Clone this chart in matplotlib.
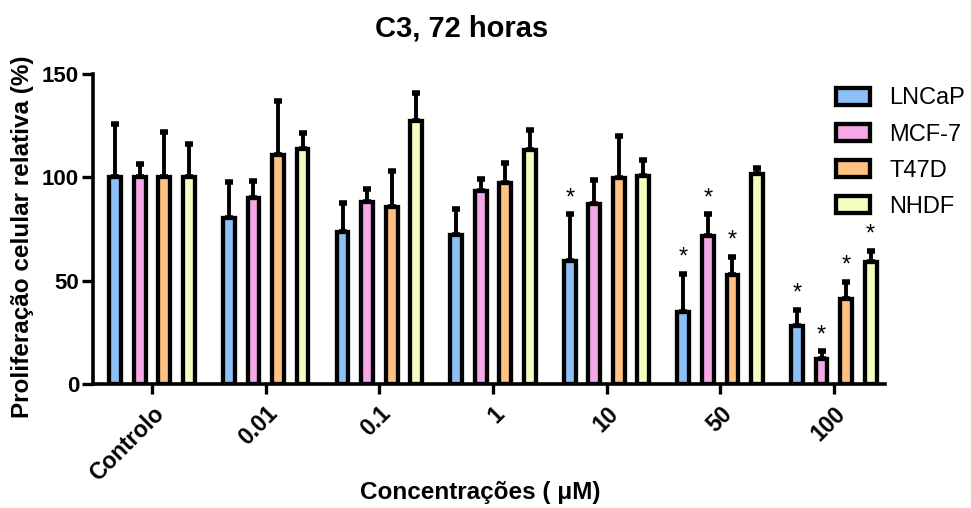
import matplotlib
matplotlib.use("Agg")
import matplotlib.pyplot as plt
import numpy as np
from matplotlib.patches import Patch

plt.rcParams['font.family'] = ['Liberation Sans', 'DejaVu Sans']

categories = ["Controlo", "0.01", "0.1", "1", "10", "50", "100"]
series = ["LNCaP", "MCF-7", "T47D", "NHDF"]
colors = ["#8EC0F8", "#F4A8E8", "#FFC080", "#F2FFC0"]

means = {
    "LNCaP": [100, 80.6, 73.8, 72.2, 59.7, 34.7, 28.3],
    "MCF-7": [100, 90.0, 88.3, 93.5, 87.3, 71.7, 12.2],
    "T47D":  [100, 110.9, 85.7, 97.3, 99.6, 52.9, 41.2],
    "NHDF":  [100, 113.6, 127.3, 113.1, 100.7, 101.8, 59.2],
}
err_tops = {
    "LNCaP": [125.7, 98.0, 87.7, 84.8, 82.2, 53.2, 35.8],
    "MCF-7": [106.7, 98.3, 94.3, 99.1, 98.6, 82.2, 15.8],
    "T47D":  [122.0, 137.0, 103.0, 107.0, 119.9, 61.7, 49.5],
    "NHDF":  [116.0, 121.6, 140.7, 122.8, 108.3, 104.7, 64.5],
}
significant = {
    "LNCaP": [0, 0, 0, 0, 1, 1, 1],
    "MCF-7": [0, 0, 0, 0, 0, 1, 1],
    "T47D":  [0, 0, 0, 0, 0, 1, 1],
    "NHDF":  [0, 0, 0, 0, 0, 0, 1],
}

fig = plt.figure(figsize=(9.71, 5.08), dpi=100)
ax = fig.add_axes([0.0958, 0.244, 0.9114 - 0.0958, 0.854 - 0.244])

x = np.arange(len(categories))
width = 0.104
step = 0.216
for i, s in enumerate(series):
    xs = x + (i - 1.5) * step
    m = np.array(means[s])
    e = np.array(err_tops[s]) - m
    ax.errorbar(xs, m, yerr=[np.zeros_like(e), e], fmt='none', ecolor='black',
                elinewidth=2.8, capsize=3.2, capthick=4, zorder=2)
    ax.bar(xs, m, width=width, color=colors[i], edgecolor='black', linewidth=3.1, zorder=3)
    for j, sig in enumerate(significant[s]):
        if sig:
            ax.text(xs[j], err_tops[s][j] + 2.5, "*", ha='center', va='bottom',
                    fontsize=17, zorder=4)

ax.set_xlim(-0.52, 6.45)
ax.set_ylim(0, 150)
ax.set_yticks([0, 50, 100, 150])
ax.set_xticks(x)
ax.set_xticklabels(categories, rotation=45, ha='right', va='top', rotation_mode='anchor',
                   fontsize=16.5, fontweight='bold')
for lab in ax.get_yticklabels():
    lab.set_fontsize(16)
    lab.set_fontweight('bold')
ax.tick_params(axis='y', length=8, width=2.4, pad=2)
ax.tick_params(axis='x', length=7, width=2.4, pad=6)
for sp in ['top', 'right']:
    ax.spines[sp].set_visible(False)
for sp in ['left', 'bottom']:
    ax.spines[sp].set_linewidth(2.6)

fig.text(0.0235, 0.533, "Proliferação celular relativa (%)", fontsize=17.5, fontweight='bold',
         rotation=90, ha='center', va='center')
fig.text(0.495, 0.03, "Concentrações ( μM)", fontsize=17.5, fontweight='bold',
         ha='center', va='center')
ax.set_title("C3, 72 horas", fontsize=21, fontweight='bold', pad=27, x=0.466)

handles = [Patch(facecolor=c, edgecolor='black', linewidth=3.1) for c in colors]
fig.legend(handles, series, loc='upper left', bbox_to_anchor=(0.861, 0.828),
           frameon=False, fontsize=17, handlelength=1.45, handleheight=0.72,
           handletextpad=0.8, labelspacing=0.6, borderpad=0, borderaxespad=0)

fig.savefig("out.png", dpi=100)
